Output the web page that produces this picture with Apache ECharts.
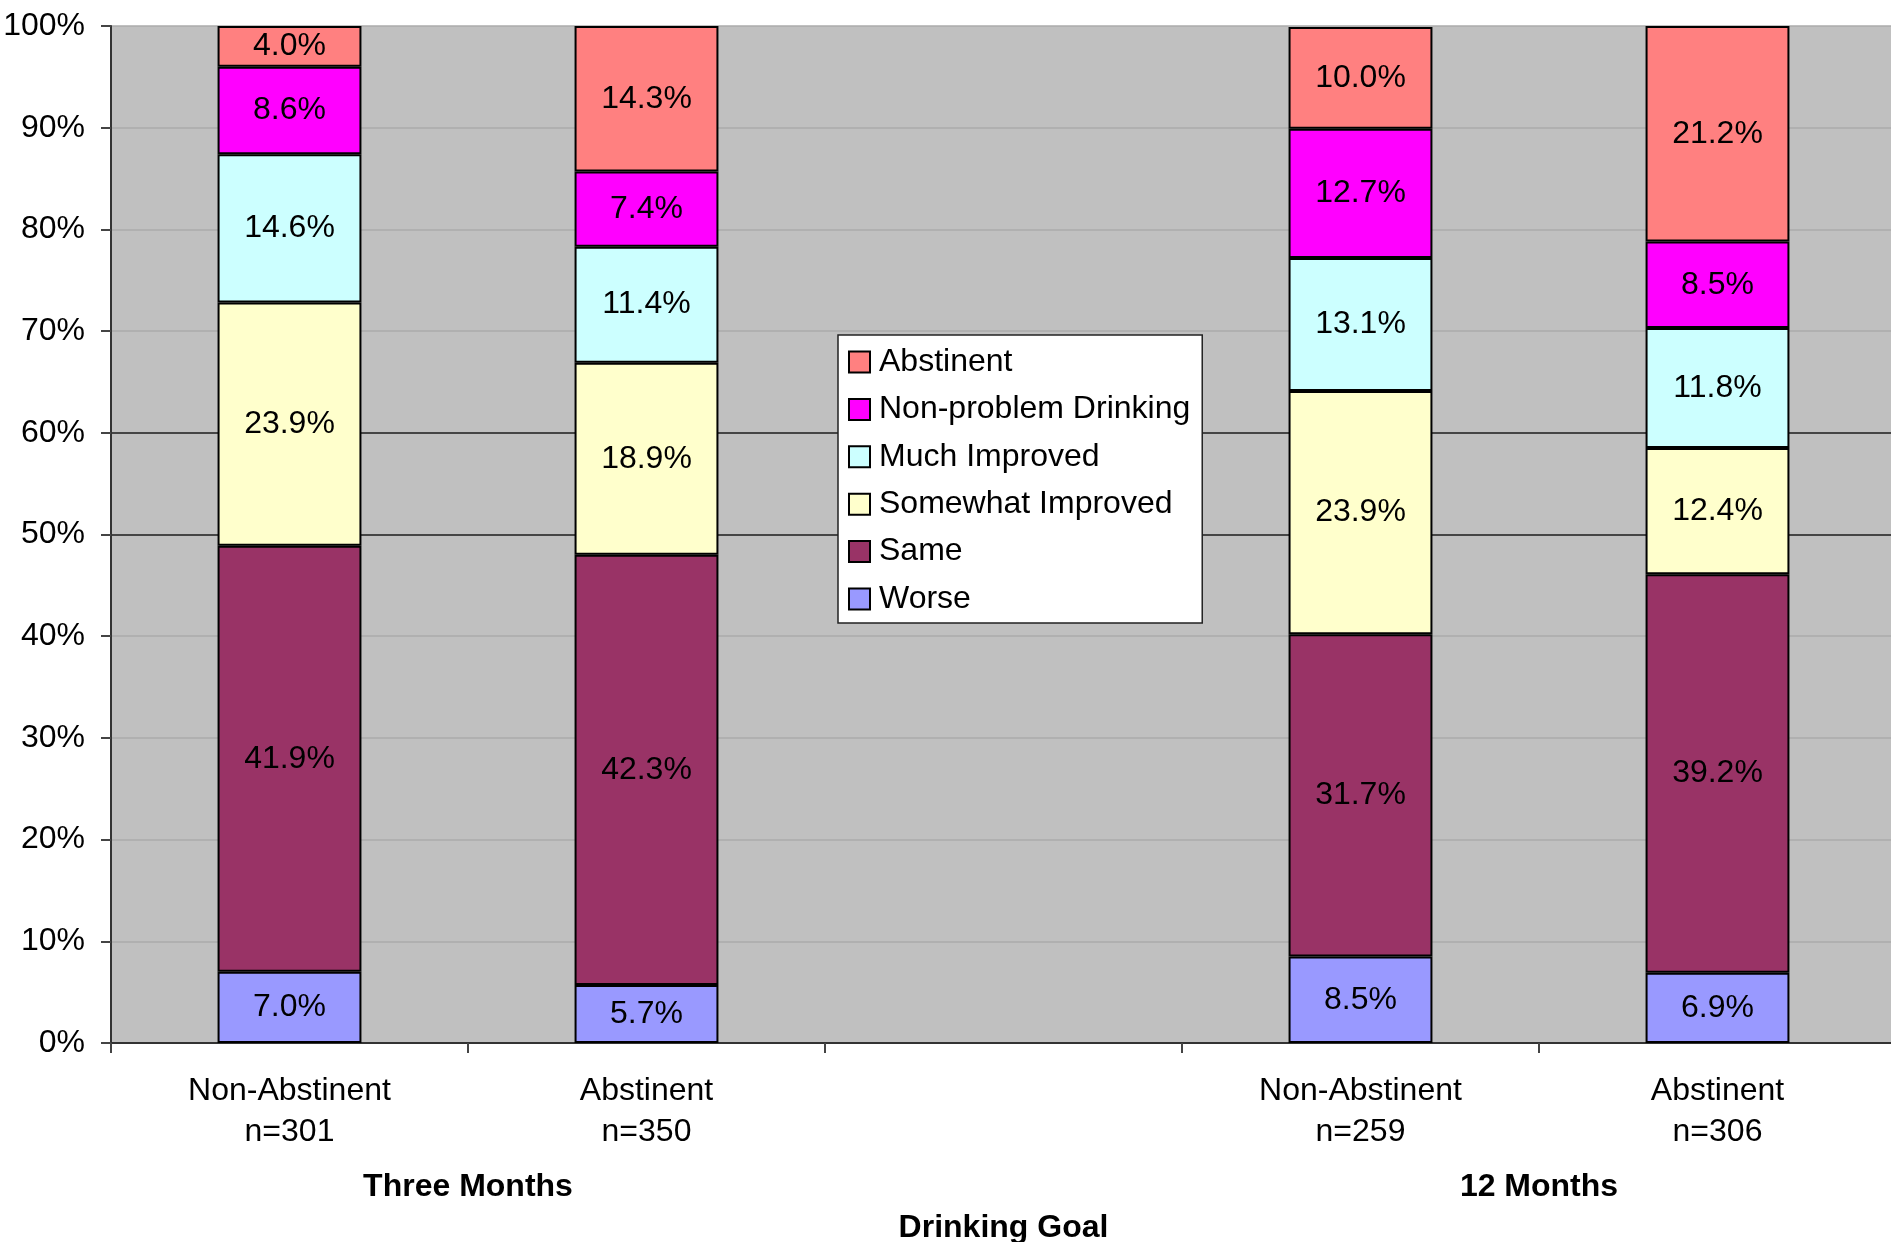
<!DOCTYPE html>
<html>
<head>
<meta charset="utf-8">
<title>Drinking Goal outcomes</title>
<script src="https://cdn.jsdelivr.net/npm/echarts@6/dist/echarts.min.js"></script>
<style>
  html, body { margin: 0; padding: 0; background: #ffffff; }
  #chart { width: 1891px; height: 1242px; }
</style>
</head>
<body>
<div id="chart"></div>
<script>
// Groups along the x axis (the middle slot is an intentional gap between time points)
const categories = ['Non-Abstinent\nn=301', 'Abstinent\nn=350', '', 'Non-Abstinent\nn=259', 'Abstinent\nn=306'];
const periodLabels = ['', 'Three Months', '', '', '12 Months', ''];

// Percent of each group per outcome, stacked bottom to top
const worse            = [7.0, 5.7, '-', 8.5, 6.9];
const same             = [41.9, 42.3, '-', 31.7, 39.2];
const somewhatImproved = [23.9, 18.9, '-', 23.9, 12.4];
const muchImproved     = [14.6, 11.4, '-', 13.1, 11.8];
const nonProblem       = [8.6, 7.4, '-', 12.7, 8.5];
const abstinent        = [4.0, 14.3, '-', 10.0, 21.2];

const yTicks = [0, 10, 20, 30, 40, 50, 60, 70, 80, 90, 100];

const FONT = '"Liberation Sans", Arial, Helvetica, sans-serif';

const outcomes = [
  { name: 'Worse', data: worse, color: '#9999ff' },
  { name: 'Same', data: same, color: '#993366' },
  { name: 'Somewhat Improved', data: somewhatImproved, color: '#ffffcc' },
  { name: 'Much Improved', data: muchImproved, color: '#ccffff' },
  { name: 'Non-problem Drinking', data: nonProblem, color: '#ff00ff' },
  { name: 'Abstinent', data: abstinent, color: '#ff8080' }
];

// Split lines: faint grey, with the 50% and 60% lines drawn dark
const gridLineColors = yTicks.map(v => (v === 50 || v === 60) ? '#1c1c1c' : '#ababab');

const chart = echarts.init(document.getElementById('chart'), null, { renderer: 'canvas' });

chart.setOption({
  animation: false,
  backgroundColor: '#ffffff',
  textStyle: { fontFamily: FONT },
  grid: {
    left: 111, top: 26, width: 1785, height: 1017,
    show: true, backgroundColor: '#c0c0c0', borderWidth: 0,
    containLabel: false,
    outerBoundsMode: 'none'
  },
  legend: {
    orient: 'vertical',
    left: 838, top: 335,
    data: ['Abstinent', 'Non-problem Drinking', 'Much Improved', 'Somewhat Improved', 'Same', 'Worse'],
    icon: 'rect',
    itemWidth: 21, itemHeight: 21,
    itemGap: 15.4,
    padding: [11, 12, 8, 10],
    backgroundColor: '#ffffff',
    borderColor: '#222222', borderWidth: 1.5,
    selectedMode: false,
    textStyle: { fontFamily: FONT, fontSize: 32, color: '#000000', lineHeight: 32, padding: [0, 0, 0, 4] }
  },
  xAxis: [
    {
      type: 'category',
      data: categories,
      position: 'bottom',
      axisLine: { show: true, lineStyle: { color: '#333333', width: 2 } },
      axisTick: { show: true, length: 10, lineStyle: { color: '#444444', width: 2 } },
      axisLabel: {
        interval: 0, margin: 28,
        fontFamily: FONT, fontSize: 32, lineHeight: 41, color: '#000000'
      },
      splitLine: { show: false }
    },
    {
      type: 'category',
      data: periodLabels,
      position: 'bottom',
      boundaryGap: false,
      axisLine: { show: false },
      axisTick: { show: false },
      axisLabel: {
        interval: 0, margin: 128,
        fontFamily: FONT, fontSize: 32, fontWeight: 'bold', lineHeight: 32, color: '#000000'
      },
      splitLine: { show: false },
      name: 'Drinking Goal',
      nameLocation: 'middle',
      nameGap: 169,
      nameTextStyle: { fontFamily: FONT, fontSize: 32, fontWeight: 'bold', color: '#000000' }
    }
  ],
  yAxis: {
    type: 'value',
    min: 0, max: 100, interval: 10,
    axisLine: { show: true, lineStyle: { color: '#333333', width: 2 } },
    axisTick: { show: true, length: 10, lineStyle: { color: '#444444', width: 2 } },
    axisLabel: {
      margin: 26, fontFamily: FONT, fontSize: 32, color: '#000000',
      formatter: '{value}%'
    },
    splitLine: { show: true, lineStyle: { color: gridLineColors, width: 1.5 } }
  },
  series: outcomes.map(o => ({
    name: o.name,
    type: 'bar',
    stack: 'total',
    xAxisIndex: 0,
    barWidth: '40.3%',
    data: o.data,
    itemStyle: { color: o.color, borderColor: '#000000', borderWidth: 2 },
    label: {
      show: true,
      position: 'inside',
      fontFamily: FONT, fontSize: 32, color: '#000000',
      formatter: p => (typeof p.value === 'number') ? p.value.toFixed(1) + '%' : ''
    }
  }))
});
</script>
</body>
</html>
